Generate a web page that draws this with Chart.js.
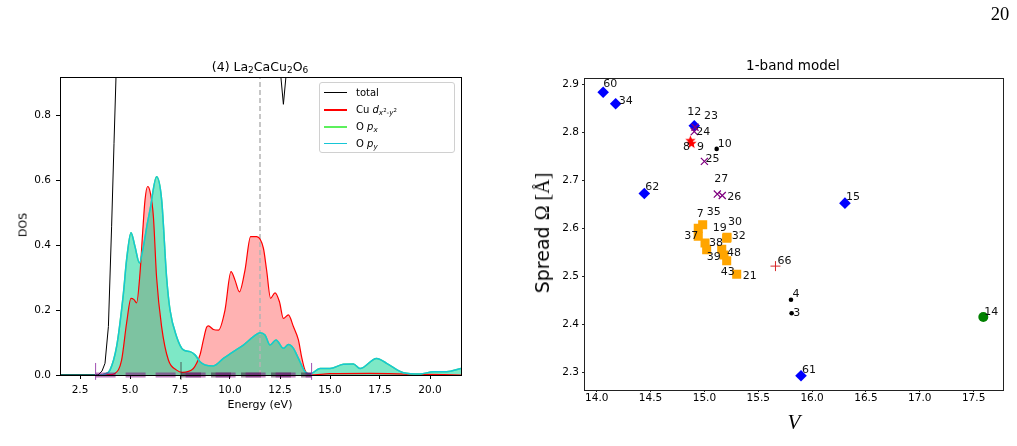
<!DOCTYPE html>
<html>
<head>
<meta charset="utf-8">
<script src="https://cdn.jsdelivr.net/npm/chart.js@4.4.1/dist/chart.umd.min.js"></script>
<style>
  body { margin: 0; background: #fff; width: 1017px; height: 446px; position: relative; overflow: hidden;
         font-family: 'DejaVu Sans', sans-serif; color: #000; }
  .wrap { position: absolute; top: 0; }
  .txt { position: absolute; white-space: nowrap; line-height: 1; transform: translate(-50%, -50%); }
  .rot { transform: translate(-50%, -50%) rotate(-90deg); }
  sub { font-size: 0.72em; vertical-align: -0.3em; line-height: 0; }
  sub sup { font-size: 0.75em; vertical-align: 0.6em; }
  #legend { position: absolute; left: 319px; top: 82px; width: 134px; height: 69px; border: 1px solid #d0d0d0;
            border-radius: 3px; background: rgba(255,255,255,0.85); font-size: 10px; z-index: 2; }
  .row { position: absolute; left: 0; height: 12px; width: 130px; }
  .hl { position: absolute; left: 4px; top: 5px; width: 23px; height: 1.5px; }
  .lt { position: absolute; left: 36px; top: 0; line-height: 12px; white-space: nowrap; }
</style>
</head>
<body>
<div class="wrap" style="left:0;width:480px;height:446px"><canvas id="dosChart" width="480" height="446"></canvas></div>
<div class="wrap" style="left:520px;width:497px;height:446px"><canvas id="spreadChart" width="497" height="446"></canvas></div>

<div class="txt" style="left:1000px;top:14px;font-family:'Liberation Serif',serif;font-size:18.5px">20</div>

<div class="txt" style="left:260px;top:67px;font-size:12.5px">(4) La<sub>2</sub>CaCu<sub>2</sub>O<sub>6</sub></div>
<div class="txt rot" style="left:23px;top:225px;font-size:11px">DOS</div>
<div class="txt" style="left:260px;top:404px;font-size:11px">Energy (eV)</div>

<div id="legend">
  <div class="row" style="top:3.7px"><span class="hl" style="background:#000"></span><span class="lt">total</span></div>
  <div class="row" style="top:21.3px"><span class="hl" style="background:#ff0000"></span><span class="lt">Cu <i>d</i><sub><i>x</i><sup>2</sup>-<i>y</i><sup>2</sup></sub></span></div>
  <div class="row" style="top:38px"><span class="hl" style="background:#5cf05c"></span><span class="lt">O <i>p</i><sub><i>x</i></sub></span></div>
  <div class="row" style="top:54.7px"><span class="hl" style="background:#16c6d6"></span><span class="lt">O <i>p</i><sub><i>y</i></sub></span></div>
</div>

<div class="txt" style="left:793px;top:66px;font-size:13.5px">1-band model</div>
<div class="txt rot" style="left:542px;top:233px;font-size:19px">Spread <span style="font-family:'Liberation Serif',serif;font-size:20px">Ω [Å]</span></div>
<div class="txt" style="left:794px;top:422px;font-family:'Liberation Serif',serif;font-style:italic;font-size:21px">V</div>

<script>
// ---- DOS panel ----
const energyTicks = [2.5, 5.0, 7.5, 10.0, 12.5, 15.0, 17.5, 20.0];
const dosTicks = [0.0, 0.2, 0.4, 0.6, 0.8];

const totalE   = [1.5, 3.4, 3.6, 3.75, 3.92, 4.08, 4.2, 4.3, 4.5, 12.42, 12.67, 12.92, 21.55];
const totalDos = [0, 0, 0.012, 0.036, 0.149, 0.456, 0.713, 0.918, 1.6, 1.0, 0.833, 1.0, 1.8];

const cuE   = [1.5, 3.5, 4.0, 4.25, 4.58, 4.83, 5.05, 5.2, 5.33, 5.5, 5.63, 5.75, 5.88, 6.0, 6.17, 6.33, 6.58, 6.92, 7.33,
               7.6, 8.17, 8.33, 8.5, 8.67, 8.83, 8.92, 9.17, 9.42, 9.75, 10.05, 10.25, 10.47, 10.75, 11.03, 11.33, 11.67,
               11.83, 12.03, 12.25, 12.47, 12.67, 12.92, 13.17, 13.42, 13.58, 13.75, 14.0, 15.0, 17.0, 19.0, 21.55];
const cuDos = [0, 0, 0.001, 0.005, 0.046, 0.16, 0.236, 0.232, 0.222, 0.313, 0.436, 0.538, 0.58, 0.565, 0.487, 0.30, 0.149, 0.046, 0.015,
               0.008, 0.02, 0.036, 0.062, 0.108, 0.147, 0.151, 0.14, 0.138, 0.2, 0.318, 0.292, 0.256, 0.323, 0.426, 0.426, 0.39,
               0.323, 0.236, 0.253, 0.226, 0.174, 0.185, 0.149, 0.108, 0.056, 0.015, 0.0, 0.004, 0.005, 0.003, 0];

// O p_x and O p_y coincide
const oE   = [1.5, 3.5, 3.75, 4.0, 4.33, 4.67, 4.83, 5.05, 5.25, 5.47, 5.67, 5.87, 6.0, 6.33, 6.58, 6.83, 7.0, 7.33, 7.67,
              8.0, 8.25, 8.5, 8.75, 9.17, 9.67, 10.17, 10.67, 11.17, 11.5, 11.75, 12.0, 12.3, 12.67, 12.92, 13.17, 13.42,
              13.75, 14.0, 14.5, 15.0, 15.67, 16.17, 16.5, 17.33, 17.83, 18.67, 19.5, 20.17, 20.83, 21.55];
const oDos = [0, 0, 0.003, 0.015, 0.087, 0.25, 0.354, 0.438, 0.395, 0.345, 0.395, 0.467, 0.508, 0.61, 0.54, 0.30, 0.2, 0.118, 0.077,
              0.072, 0.062, 0.041, 0.031, 0.028, 0.051, 0.072, 0.092, 0.118, 0.130, 0.123, 0.092, 0.108, 0.082, 0.094, 0.082, 0.051,
              0.010, 0.003, 0.02, 0.02, 0.033, 0.034, 0.02, 0.051, 0.036, 0.007, 0.003, 0.01, 0.01, 0.02];

const fermiLevel = 11.5;
const windowEdges = [3.28, 7.55, 14.08];

// ---- spread panel ----
const vTicks = [14.0, 14.5, 15.0, 15.5, 16.0, 16.5, 17.0, 17.5];
const spreadTicks = [2.3, 2.4, 2.5, 2.6, 2.7, 2.8, 2.9];

const diamondIds = [60, 34, 12, 62, 15, 61];
const diamondV   = [14.06, 14.176, 14.906, 14.442, 16.305, 15.897];
const diamondS   = [2.883, 2.859, 2.813, 2.672, 2.652, 2.293];

const starIds = [8, 9];
const starV   = [14.87, 14.88];
const starS   = [2.782, 2.776];

const crossIds = [23, 24, 25, 27, 26];
const crossV   = [14.913, 14.906, 15.0, 15.12, 15.166];
const crossS   = [2.810, 2.801, 2.739, 2.671, 2.668];

const dotIds = [10, 4, 3];
const dotV   = [15.114, 15.804, 15.81];
const dotS   = [2.765, 2.451, 2.423];

const squareIds = [7, 35, 37, 38, 39, 19, 48, 43, 21, 30, 32];
const squareV   = [14.943, 14.984, 14.943, 15.006, 15.021, 15.161, 15.182, 15.207, 15.30, 15.21, 15.207];
const squareS   = [2.600, 2.607, 2.583, 2.569, 2.555, 2.556, 2.544, 2.532, 2.504, 2.581, 2.579];

const circleIds = [14];
const circleV   = [17.59];
const circleS   = [2.415];

const plusIds = [66];
const plusV   = [15.66];
const plusS   = [2.521];

// label offsets in pixels (text centre relative to the marker)
const labelShift = {
  60: [7, -8], 34: [10, -3], 12: [0, -14], 23: [16, -11], 24: [9, 1], 8: [-4, 6], 9: [9, 4], 10: [8, -5],
  25: [8, -2], 27: [4, -15], 26: [12, 2], 62: [8, -6], 15: [8, -6], 7: [2, -14], 35: [11, -13], 30: [8, -15],
  19: [-2, -21], 37: [-7, 0], 32: [12, -2], 38: [11, 0], 48: [10, -2], 39: [7, 7], 43: [1, 11], 21: [13, 2],
  66: [9, -5], 4: [5, -6], 3: [5, 0], 14: [8, -5], 61: [8, -6]
};

Chart.defaults.font.family = "'DejaVu Sans', sans-serif";
Chart.defaults.color = '#000';

const pts = (xs, ys) => xs.map((x, i) => ({ x: x, y: ys[i] }));

const framePlugin = {
  id: 'frame',
  afterDraw(chart, args, opts) {
    const a = chart.chartArea, ctx = chart.ctx;
    ctx.save();
    ctx.strokeStyle = opts.color || '#000';
    ctx.lineWidth = 1;
    ctx.strokeRect(Math.round(a.left) + 0.5, Math.round(a.top) + 0.5, Math.round(a.right - a.left), Math.round(a.bottom - a.top));
    ctx.restore();
  }
};

// fixed axis sizes so the plot box lands where it sits in the picture
const fixWidth = w => scale => { scale.width = w; };
const fixHeight = h => scale => { scale.height = h; };
const useTicks = list => scale => { scale.ticks = list.map(v => ({ value: v })); };

new Chart(document.getElementById('dosChart').getContext('2d'), {
  type: 'line',
  data: {
    datasets: [
      { label: 'total', data: pts(totalE, totalDos), borderColor: '#000', borderWidth: 1, tension: 0, fill: false },
      { label: 'O py', data: pts(oE, oDos), borderColor: '#16c6d6', borderWidth: 1.5, cubicInterpolationMode: 'monotone',
        fill: 'origin', backgroundColor: 'rgba(0,190,210,0.35)' },
      { label: 'O px', data: pts(oE, oDos), borderColor: '#5cf05c', borderWidth: 1.5, cubicInterpolationMode: 'monotone',
        fill: 'origin', backgroundColor: 'rgba(0,255,0,0.25)' },
      { label: 'Cu d', data: pts(cuE, cuDos), borderColor: '#ff0000', borderWidth: 1.2, cubicInterpolationMode: 'monotone',
        fill: 'origin', backgroundColor: 'rgba(255,0,0,0.3)' },
      { label: 'EF', data: pts([fermiLevel, fermiLevel], [0, 1]), borderColor: '#b4b4b4', borderWidth: 1.5, borderDash: [5, 3], fill: false },
      { label: 'window', data: pts([windowEdges[0], windowEdges[2]], [0, 0]), borderColor: 'rgba(128,0,128,0.5)',
        borderWidth: 5, borderDash: [20, 10], fill: false, clip: false, order: -1 },
      { label: 'window2', data: pts([windowEdges[1], windowEdges[2]], [0, 0]), borderColor: 'rgba(40,0,40,0.45)',
        borderWidth: 5, borderDash: [20, 10], fill: false, clip: false, order: -1 },
      { label: 'edge1', data: pts([windowEdges[0], windowEdges[0]], [-0.015, 0.037]), borderColor: 'rgba(150,60,170,0.9)', borderWidth: 1, fill: false, clip: false, order: -2 },
      { label: 'edge2', data: pts([windowEdges[1], windowEdges[1]], [-0.015, 0.04]), borderColor: 'rgba(60,60,60,0.8)', borderWidth: 1, fill: false, clip: false, order: -2 },
      { label: 'edge3', data: pts([windowEdges[2], windowEdges[2]], [-0.015, 0.037]), borderColor: 'rgba(150,60,170,0.9)', borderWidth: 1, fill: false, clip: false, order: -2 }
    ]
  },
  options: {
    responsive: false,
    animation: false,
    elements: { point: { radius: 0 } },
    layout: { padding: { top: 77, right: 19, left: 0, bottom: 0 } },
    plugins: {
      legend: { display: false },
      tooltip: { enabled: false },
      filler: { drawTime: 'beforeDatasetsDraw' },
      frame: { color: '#000' }
    },
    scales: {
      x: {
        type: 'linear', min: 1.5, max: 21.55,
        afterBuildTicks: useTicks(energyTicks),
        afterFit: fixHeight(71),
        grid: { drawOnChartArea: false, drawTicks: true, tickLength: 4, color: '#000' },
        border: { color: '#000' },
        ticks: { font: { size: 10.5 }, padding: 5, maxRotation: 0, callback: v => v.toFixed(1) }
      },
      y: {
        min: 0, max: 0.917,
        afterBuildTicks: useTicks(dosTicks),
        afterFit: fixWidth(60),
        grid: { drawOnChartArea: false, drawTicks: true, tickLength: 4, color: '#000' },
        border: { color: '#000' },
        ticks: { font: { size: 10.5 }, padding: 5, callback: v => v.toFixed(1) }
      }
    }
  },
  plugins: [framePlugin]
});

// filled five point star for the red markers
function starImage(r, color) {
  const c = document.createElement('canvas');
  c.width = c.height = Math.ceil(2 * r + 2);
  const g = c.getContext('2d');
  g.beginPath();
  for (let i = 0; i < 10; i++) {
    const a = -Math.PI / 2 + i * Math.PI / 5;
    const rr = i % 2 ? r * 0.42 : r;
    g.lineTo(c.width / 2 + rr * Math.cos(a), c.height / 2 + rr * Math.sin(a));
  }
  g.closePath();
  g.fillStyle = color;
  g.fill();
  return c;
}

const labelPlugin = {
  id: 'pointLabels',
  afterDatasetsDraw(chart) {
    const ctx = chart.ctx;
    ctx.save();
    ctx.font = "11px 'DejaVu Sans'";
    ctx.fillStyle = '#111';
    ctx.textAlign = 'center';
    ctx.textBaseline = 'middle';
    chart.data.datasets.forEach((ds, di) => {
      const meta = chart.getDatasetMeta(di);
      ds.ids.forEach((id, i) => {
        const el = meta.data[i];
        const s = labelShift[id] || [8, -6];
        ctx.fillText(String(id), el.x + s[0], el.y + s[1]);
      });
    });
    ctx.restore();
  }
};

new Chart(document.getElementById('spreadChart').getContext('2d'), {
  type: 'scatter',
  data: {
    datasets: [
      { ids: crossIds, data: pts(crossV, crossS), pointStyle: 'crossRot', pointRadius: 5, borderColor: '#800080', borderWidth: 1.2, order: 1 },
      { ids: starIds, data: pts(starV, starS), pointStyle: starImage(5.5, '#ff0000'), pointRadius: 5, order: 2 },
      { ids: dotIds, data: pts(dotV, dotS), pointStyle: 'circle', pointRadius: 2.3, backgroundColor: '#000', borderWidth: 0, order: 3 },
      { ids: plusIds, data: pts(plusV, plusS), pointStyle: 'cross', pointRadius: 5, borderColor: '#d62728', borderWidth: 1, order: 4 },
      { ids: squareIds, data: pts(squareV, squareS), pointStyle: 'rect', pointRadius: 6.4, backgroundColor: '#ffa500', borderWidth: 0, order: 5 },
      { ids: circleIds, data: pts(circleV, circleS), pointStyle: 'circle', pointRadius: 5, backgroundColor: '#008000', borderWidth: 0, order: 6 },
      { ids: diamondIds, data: pts(diamondV, diamondS), pointStyle: 'rectRot', pointRadius: 5.8, backgroundColor: '#0000ff', borderWidth: 0, order: 7 }
    ]
  },
  options: {
    responsive: false,
    animation: false,
    layout: { padding: { top: 78, right: 14.3, left: 0, bottom: 0 } },
    plugins: {
      legend: { display: false },
      tooltip: { enabled: false },
      frame: { color: '#222' }
    },
    scales: {
      x: {
        type: 'linear', min: 13.882, max: 17.77,
        afterBuildTicks: useTicks(vTicks),
        afterFit: fixHeight(56),
        grid: { drawOnChartArea: false, drawTicks: true, tickLength: 2, color: '#222' },
        border: { color: '#222' },
        ticks: { font: { size: 10.5 }, padding: 0, maxRotation: 0, callback: v => v.toFixed(1) }
      },
      y: {
        min: 2.2632, max: 2.9125,
        afterBuildTicks: useTicks(spreadTicks),
        afterFit: fixWidth(64),
        grid: { drawOnChartArea: false, drawTicks: true, tickLength: 2, color: '#222' },
        border: { color: '#222' },
        ticks: { font: { size: 10.5 }, padding: 3, callback: v => v.toFixed(1) }
      }
    }
  },
  plugins: [framePlugin, labelPlugin]
});
</script>
</body>
</html>
